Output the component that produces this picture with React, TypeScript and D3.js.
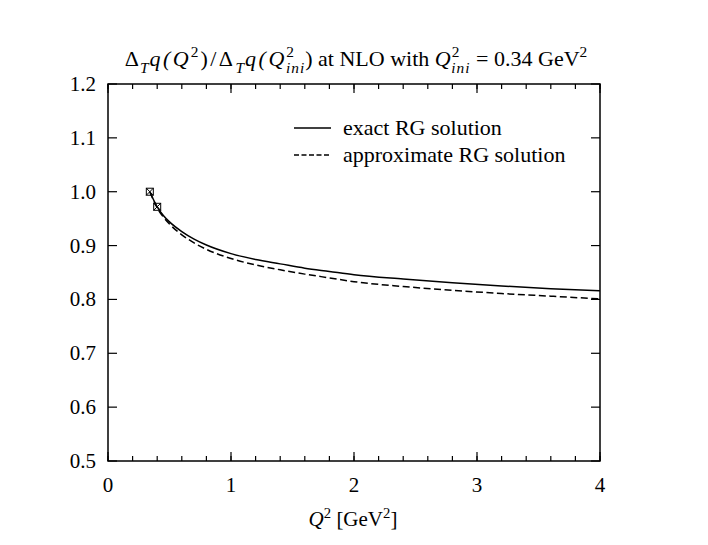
import * as d3 from "d3";

// Q^2 grid (GeV^2) and ratio values
const q2 = [0.34, 0.4, 0.45, 0.5, 0.6, 0.7, 0.8, 1.0, 1.2, 1.4, 1.6, 1.8, 2.0, 2.4, 2.8, 3.2, 3.6, 4.0];
const exactRatio = [1.0, 0.972, 0.956, 0.944, 0.926, 0.912, 0.901, 0.885, 0.874, 0.866, 0.858, 0.852, 0.846, 0.838, 0.831, 0.825, 0.82, 0.816];
const approxRatio = [1.0, 0.97, 0.953, 0.94, 0.92, 0.905, 0.893, 0.876, 0.864, 0.855, 0.847, 0.84, 0.833, 0.824, 0.817, 0.811, 0.806, 0.801];
const markerQ2 = [0.34, 0.4];
const markerRatio = [1.0, 0.972];

const xTicks = [0, 1, 2, 3, 4];
const xMinorTicks = d3.range(0, 4.001, 0.2);
const yTicks = [0.5, 0.6, 0.7, 0.8, 0.9, 1.0, 1.1, 1.2];
const legendLabels = ["exact RG solution", "approximate RG solution"];

const W = 708;
const H = 545;
const margin = { top: 84, right: 108, bottom: 84, left: 108 };
const FONT = "'Liberation Serif', 'Times New Roman', serif";

type Seg = { t: string; it?: boolean; pos?: "sup" | "sub"; dx?: number; ls?: number };

const titleSegs: Seg[] = [
  { t: "Δ", ls: 1 }, { t: "T", it: true, pos: "sub", ls: 1 }, { t: "q(", it: true, ls: 2.5 },
  { t: "Q", it: true, ls: 2 }, { t: "2", pos: "sup", ls: 2 }, { t: ")/Δ", ls: 2.5 },
  { t: "T", it: true, pos: "sub", ls: 1 }, { t: "q(", it: true, ls: 2.5 }, { t: "Q", it: true, ls: 2 },
  { t: "2", pos: "sup" }, { t: "ini", it: true, pos: "sub", dx: -8, ls: 1 }, { t: ") at NLO with " },
  { t: "Q", it: true, ls: 1 }, { t: "2", pos: "sup" }, { t: "ini", it: true, pos: "sub", dx: -8, ls: 1 },
  { t: " = 0.34 GeV" }, { t: "2", pos: "sup" },
];

const xLabelSegs: Seg[] = [
  { t: "Q", it: true }, { t: "2", pos: "sup" }, { t: " [GeV" }, { t: "2", pos: "sup" }, { t: "]" },
];

function MathText({ segs, x, y, size }: { segs: Seg[]; x: number; y: number; size: number }) {
  let cur = 0;
  const shift = { sup: -0.4 * size, sub: 0.3 * size };
  return (
    <text x={x} y={y} textAnchor="middle" fontFamily={FONT} fontSize={size} fill="#000">
      {segs.map((s, i) => {
        const target = s.pos ? shift[s.pos] : 0;
        const dy = target - cur;
        cur = target;
        return (
          <tspan
            key={i}
            dy={dy}
            dx={s.dx ?? 0}
            fontStyle={s.it ? "italic" : "normal"}
            fontSize={s.pos ? size * 0.7 : size}
            letterSpacing={s.ls ?? 0}
            style={{ whiteSpace: "pre" }}
          >
            {s.t}
          </tspan>
        );
      })}
    </text>
  );
}

export default function App() {
  const x = d3.scaleLinear().domain([0, 4]).range([margin.left, W - margin.right]);
  const y = d3.scaleLinear().domain([0.5, 1.2]).range([H - margin.bottom, margin.top]);

  const line = d3
    .line<number>()
    .x((_, i) => x(q2[i]))
    .y((d) => y(d))
    .curve(d3.curveMonotoneX);

  const [x0, x1] = x.range();
  const [y0, y1] = y.range();
  const majorLen = 9;
  const minorLen = 5;

  return (
    <svg
      width={W}
      height={H}
      style={{ position: "absolute", left: 0, top: 0, background: "#fff" }}
    >
      <MathText segs={titleSegs} x={356} y={66} size={22} />

      {/* ticks, mirrored inwards on all sides */}
      <g stroke="#000" strokeWidth={1.2}>
        {xMinorTicks.map((t) => (
          <g key={"xm" + t}>
            <line x1={x(t)} x2={x(t)} y1={y0} y2={y0 - minorLen} />
            <line x1={x(t)} x2={x(t)} y1={y1} y2={y1 + minorLen} />
          </g>
        ))}
        {xTicks.map((t) => (
          <g key={"x" + t}>
            <line x1={x(t)} x2={x(t)} y1={y0} y2={y0 - majorLen} />
            <line x1={x(t)} x2={x(t)} y1={y1} y2={y1 + majorLen} />
          </g>
        ))}
        {yTicks.map((t) => (
          <g key={"y" + t}>
            <line x1={x0} x2={x0 + majorLen} y1={y(t)} y2={y(t)} />
            <line x1={x1} x2={x1 - majorLen} y1={y(t)} y2={y(t)} />
          </g>
        ))}
      </g>

      <g fontFamily={FONT} fontSize={21} fill="#000">
        {xTicks.map((t) => (
          <text key={t} x={x(t)} y={y0 + 31} textAnchor="middle">
            {t}
          </text>
        ))}
        {yTicks.map((t) => (
          <text key={t} x={x0 - 12} y={y(t) + 7} textAnchor="end">
            {t.toFixed(1)}
          </text>
        ))}
      </g>

      <MathText segs={xLabelSegs} x={353} y={526} size={21} />

      {/* curves */}
      <path d={line(exactRatio) ?? ""} fill="none" stroke="#000" strokeWidth={1.5} />
      <path
        d={line(approxRatio) ?? ""}
        fill="none"
        stroke="#000"
        strokeWidth={1.5}
        strokeDasharray="7,3.5"
      />

      {/* markers: square with cross */}
      <g stroke="#000" strokeWidth={1} fill="none">
        {markerQ2.map((q, i) => {
          const cx = x(q);
          const cy = y(markerRatio[i]);
          const s = 3.5;
          return (
            <g key={i}>
              <rect x={cx - s} y={cy - s} width={2 * s} height={2 * s} />
              <line x1={cx - s} y1={cy - s} x2={cx + s} y2={cy + s} />
              <line x1={cx - s} y1={cy + s} x2={cx + s} y2={cy - s} />
            </g>
          );
        })}
      </g>

      {/* legend */}
      <g fontFamily={FONT} fontSize={22} fill="#000">
        {legendLabels.map((l, i) => (
          <g key={l} transform={`translate(0, ${128 + i * 27})`}>
            <line
              x1={294}
              x2={331}
              y1={0}
              y2={0}
              stroke="#000"
              strokeWidth={1.3}
              strokeDasharray={i === 1 ? "5,2.5" : undefined}
            />
            <text x={343} y={7}>
              {l}
            </text>
          </g>
        ))}
      </g>

      <rect x={x0} y={y1} width={x1 - x0} height={y0 - y1} fill="none" stroke="#000" strokeWidth={1.5} />
    </svg>
  );
}
